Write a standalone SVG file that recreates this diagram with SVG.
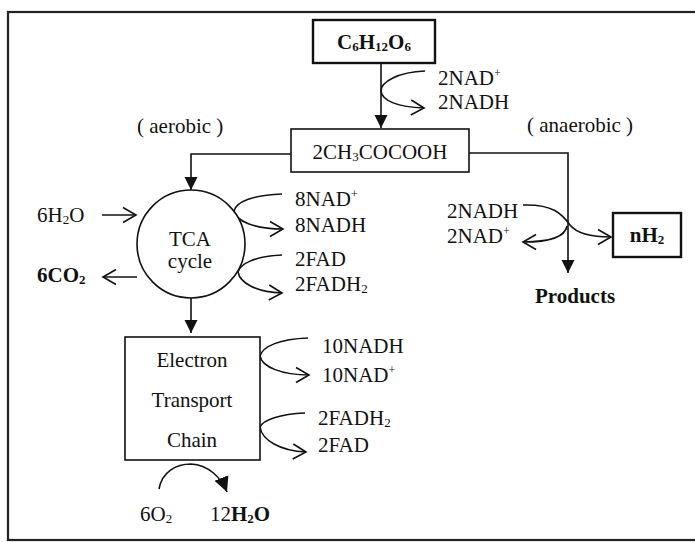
<svg xmlns="http://www.w3.org/2000/svg" width="695" height="542" viewBox="0 0 695 542">
<style>
text{font-family:"Liberation Serif","Times New Roman",serif;font-size:21px;fill:#111}
.b{font-weight:bold}
.box{fill:#fff;stroke:#111;stroke-width:1.6}
.bbox{fill:#fff;stroke:#111;stroke-width:2.4}
.c{fill:none;stroke:#111;stroke-width:1.6}
.sub{font-size:13px}
.sup{font-size:12px}
</style>
<defs>
<marker id="open" markerUnits="userSpaceOnUse" markerWidth="16" markerHeight="18" refX="14" refY="9" orient="auto"><path d="M1,1.5 L14,9 L1,16.5" fill="none" stroke="#111" stroke-width="1.6"/></marker>
<marker id="fill" markerUnits="userSpaceOnUse" markerWidth="14" markerHeight="14" refX="13" refY="7" orient="auto"><path d="M0,0.5 L13,7 L0,13.5 Z" fill="#111"/></marker>
<marker id="fillbig" markerUnits="userSpaceOnUse" markerWidth="16" markerHeight="16" refX="15" refY="8" orient="auto"><path d="M0,0.5 L15,8 L0,15.5 Z" fill="#111"/></marker>
</defs>
<rect x="8" y="12" width="700" height="528" fill="none" stroke="#222" stroke-width="2.2"/>
<g id="connectors">
<path class="c" d="M381,63 V128" marker-end="url(#fill)"/>
<path class="c" d="M425,71 C398,72 381,82 381,91 C382,101 398,107 424,108" marker-end="url(#open)"/>
<path class="c" d="M291,154 H191 V190" marker-end="url(#fill)"/>
<path class="c" d="M469,153 H568 V273" marker-end="url(#fill)"/>
<path class="c" d="M102,215 H136" marker-end="url(#open)"/>
<path class="c" d="M137,277 H103" marker-end="url(#open)"/>
<path class="c" d="M282,194 C252,195 236,202 234,211 C236,221 254,229 283,229" marker-end="url(#open)"/>
<path class="c" d="M282,255 C255,256 240,264 238,272 C240,283 256,292 282,293" marker-end="url(#open)"/>
<path class="c" d="M191,298 V333" marker-end="url(#fill)"/>
<path class="c" d="M308,338 C280,339 263,346 260,356 C262,367 282,375 309,375" marker-end="url(#open)"/>
<path class="c" d="M305,413 C280,414 263,420 260,427 C262,440 280,451 306,452" marker-end="url(#open)"/>
<path class="c" d="M523,205 C553,204 562,214 570,225 C578,235 594,237 611,237" marker-end="url(#open)"/>
<path class="c" d="M567,226 C565,238 546,242 523,242" marker-end="url(#open)"/>
<path class="c" d="M159,489 C162,472 176,464 191,464 C208,465 221,477 227,492" marker-end="url(#fillbig)"/>
</g>
<g id="glucose">
<rect class="bbox" x="313" y="20" width="122" height="43"/>
<text class="b" x="374" y="49" text-anchor="middle">C<tspan class="sub" dy="2">6</tspan><tspan dy="-2">H</tspan><tspan class="sub" dy="2">12</tspan><tspan dy="-2">O</tspan><tspan class="sub" dy="2">6</tspan></text>
</g>
<g id="pyruvate">
<rect class="box" x="291" y="129" width="178" height="43"/>
<text x="380" y="159" text-anchor="middle">2CH<tspan class="sub" dy="2">3</tspan><tspan dy="-2">COCOOH</tspan></text>
</g>
<g id="tca">
<circle class="box" cx="191" cy="244" r="54"/>
<text x="190" y="246" text-anchor="middle">TCA</text>
<text x="190" y="268" text-anchor="middle">cycle</text>
</g>
<g id="etc">
<rect class="box" x="125" y="337" width="135" height="123"/>
<text x="192" y="367" text-anchor="middle">Electron</text>
<text x="192" y="407" text-anchor="middle">Transport</text>
<text x="192" y="447" text-anchor="middle">Chain</text>
</g>
<g id="nh2">
<rect class="bbox" x="613" y="213" width="68" height="44"/>
<text class="b" x="647" y="242" text-anchor="middle">nH<tspan class="sub" dy="2">2</tspan></text>
</g>
<g id="products">
<text class="b" x="575" y="303" text-anchor="middle">Products</text>
</g>
<g id="labels">
<text x="438" y="85">2NAD<tspan class="sup" dy="-8">+</tspan></text>
<text x="438" y="109">2NADH</text>
<text x="137" y="133">( aerobic )</text>
<text x="527" y="132">( anaerobic )</text>
<text x="37" y="222">6H<tspan class="sub" dy="2">2</tspan><tspan dy="-2">O</tspan></text>
<text class="b" x="37" y="282">6CO<tspan class="sub" dy="2">2</tspan></text>
<text x="295" y="206">8NAD<tspan class="sup" dy="-8">+</tspan></text>
<text x="295" y="232">8NADH</text>
<text x="295" y="266">2FAD</text>
<text x="295" y="291">2FADH<tspan class="sub" dy="2">2</tspan></text>
<text x="447" y="218">2NADH</text>
<text x="447" y="243">2NAD<tspan class="sup" dy="-8">+</tspan></text>
<text x="322" y="353">10NADH</text>
<text x="322" y="382">10NAD<tspan class="sup" dy="-8">+</tspan></text>
<text x="318" y="425">2FADH<tspan class="sub" dy="2">2</tspan></text>
<text x="318" y="452">2FAD</text>
<text x="140" y="521">6O<tspan class="sub" dy="2">2</tspan></text>
<text x="210" y="521">12<tspan class="b">H</tspan><tspan class="sub b" dy="2">2</tspan><tspan class="b" dy="-2">O</tspan></text>
</g>
</svg>
